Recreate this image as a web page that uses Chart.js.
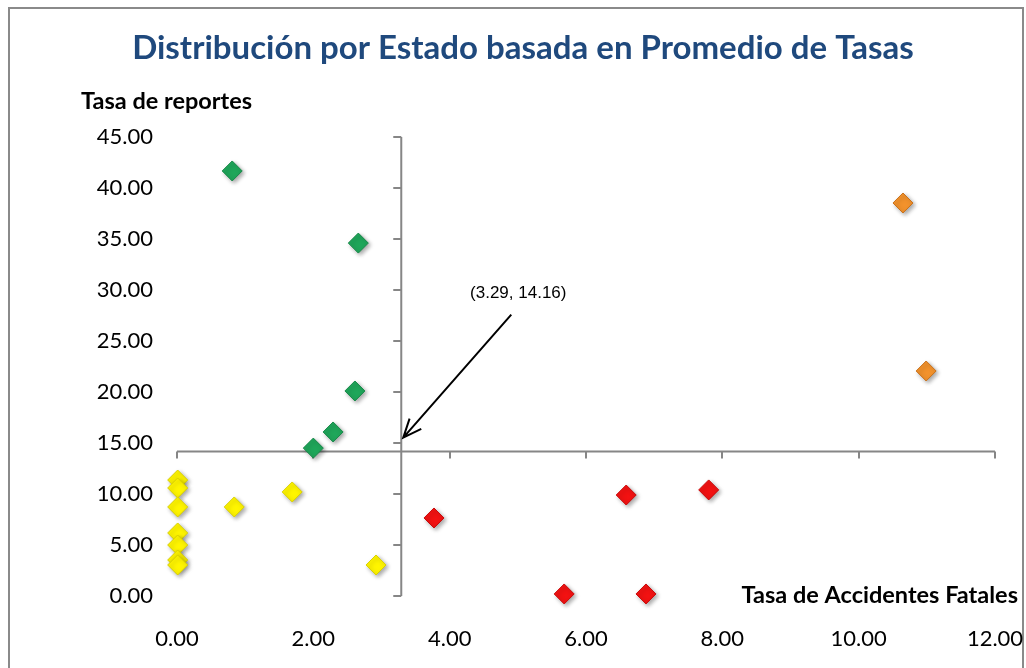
<!DOCTYPE html>
<html>
<head>
<meta charset="utf-8">
<script src="https://cdn.jsdelivr.net/npm/chart.js@4/dist/chart.umd.min.js"></script>
<style>
	body { margin: 0; background: #fff; }
	#frame { position: absolute; left: 8px; top: 7px; width: 1016px; height: 700px; border: 2px solid #8a8a8a; box-sizing: border-box; }
	#chart { position: absolute; left: 0; top: 0; }
</style>
</head>
<body>
<div id="frame"></div>
<canvas id="chart" width="1026" height="668"></canvas>
<script>
	// promedio de tasas (cruce de ejes)
	const meanX = 3.29;
	const meanY = 14.16;

	// Tasa de Accidentes Fatales (x) / Tasa de reportes (y) por estado
	const greenX = [0.81, 2.66, 2.61, 2.29, 2.00];
	const greenY = [41.67, 34.60, 20.10, 16.08, 14.50];

	const yellowX = [0.01, 0.01, 0.01, 0.01, 0.01, 0.01, 0.01, 0.84, 1.69, 2.92];
	const yellowY = [11.37, 10.59, 8.73, 6.18, 5.00, 3.53, 3.04, 8.73, 10.20, 3.04];

	const redX = [3.77, 5.68, 6.59, 6.88, 7.80];
	const redY = [7.65, 0.20, 9.90, 0.20, 10.40];

	const orangeX = [10.65, 10.99];
	const orangeY = [38.53, 22.06];

	const xTicks = [0, 2, 4, 6, 8, 10, 12];
	const yTicks = [0, 5, 10, 15, 20, 25, 30, 35, 40, 45];

	function toPoints(xs, ys) {
		return xs.map((v, i) => ({ x: v, y: ys[i] }));
	}

	function series(label, xs, ys, fill, border) {
		return {
			label: label,
			data: toPoints(xs, ys),
			clip: false,
			pointStyle: 'rectRot',
			pointRadius: 10,
			pointHoverRadius: 10,
			backgroundColor: fill,
			borderColor: border,
			borderWidth: 1
		};
	}

	const FONT = 'Lato, "Open Sans", sans-serif';

	// ejes que se cruzan en el promedio, textos y flecha
	const crossAxes = {
		id: 'crossAxes',
		beforeDatasetsDraw(chart) {
			const ctx = chart.ctx;
			const x = chart.scales.x, y = chart.scales.y;
			const px = x.getPixelForValue(meanX);
			const py = y.getPixelForValue(meanY);
			ctx.save();
			ctx.strokeStyle = '#868686';
			ctx.lineWidth = 2;
			ctx.beginPath();
			ctx.moveTo(px, y.top); ctx.lineTo(px, y.bottom);
			ctx.moveTo(x.left, py); ctx.lineTo(x.right, py);
			yTicks.forEach(function (t) {
				const ty = Math.round(y.getPixelForValue(t));
				ctx.moveTo(px - 8, ty); ctx.lineTo(px, ty);
			});
			xTicks.forEach(function (t) {
				const tx = Math.round(x.getPixelForValue(t));
				ctx.moveTo(tx, py); ctx.lineTo(tx, py + 7);
			});
			ctx.stroke();
			ctx.restore();

			// sombra suave para los marcadores
			ctx.save();
			ctx.shadowColor = 'rgba(0,0,0,0.35)';
			ctx.shadowBlur = 4;
			ctx.shadowOffsetX = 2;
			ctx.shadowOffsetY = 2;
		},
		afterDatasetsDraw(chart) {
			chart.ctx.restore();
		},
		afterDraw(chart) {
			const ctx = chart.ctx;
			const x = chart.scales.x, y = chart.scales.y;
			const px = x.getPixelForValue(meanX);
			const py = y.getPixelForValue(meanY);
			ctx.save();
			ctx.fillStyle = '#000';
			ctx.font = 'bold 23.5px ' + FONT;
			ctx.textBaseline = 'middle';
			ctx.textAlign = 'left';
			ctx.fillText('Tasa de reportes', 81, 101);
			ctx.textAlign = 'right';
			ctx.fillText('Tasa de Accidentes Fatales', 1018, 595);

			// etiqueta del promedio
			ctx.font = '17px Arial, "Liberation Sans", sans-serif';
			ctx.textAlign = 'center';
			ctx.fillText('(' + meanX.toFixed(2) + ', ' + meanY.toFixed(2) + ')', px + 117, py - 158);

			// flecha
			const sx = px + 110, sy = py - 137;
			const tx = px + 2, ty = py - 14;
			const ang = Math.atan2(ty - sy, tx - sx);
			ctx.strokeStyle = '#000';
			ctx.lineWidth = 2;
			ctx.beginPath();
			ctx.moveTo(sx, sy); ctx.lineTo(tx, ty);
			ctx.moveTo(tx - 20 * Math.cos(ang - 0.4), ty - 20 * Math.sin(ang - 0.4));
			ctx.lineTo(tx, ty);
			ctx.lineTo(tx - 20 * Math.cos(ang + 0.4), ty - 20 * Math.sin(ang + 0.4));
			ctx.stroke();
			ctx.restore();
		}
	};

	const config = {
		type: 'scatter',
		data: {
			datasets: [
				series('Verde', greenX, greenY, '#1FA65A', '#178848'),
				series('Amarillo', yellowX, yellowY, '#FFF500', '#D8D000'),
				series('Rojo', redX, redY, '#F21212', '#C80A0A'),
				series('Naranja', orangeX, orangeY, '#F2922C', '#C8701A')
			]
		},
		options: {
			responsive: false,
			animation: false,
			layout: { padding: { left: 51, right: 31, top: 0, bottom: 0 } },
			plugins: {
				legend: { display: false },
				tooltip: { enabled: false },
				title: {
					display: true,
					text: 'Distribución por Estado basada en Promedio de Tasas',
					color: '#1F497D',
					font: { family: FONT, size: 33, weight: 'bold' },
					padding: { top: 29, bottom: 68.4 }
				}
			},
			scales: {
				x: {
					type: 'linear',
					min: 0,
					max: 12,
					grid: { display: false },
					border: { display: false },
					afterFit: function (s) { s.height = 72; s.paddingLeft = 0; s.paddingRight = 0; },
					ticks: {
						stepSize: 2,
						padding: 22,
						color: '#000',
						font: { family: FONT, size: 22 },
						callback: function (v) { return v.toFixed(2); }
					}
				},
				y: {
					type: 'linear',
					min: 0,
					max: 45,
					grid: { display: false },
					border: { display: false },
					afterFit: function (s) { s.width = 126; s.paddingTop = 0; s.paddingBottom = 0; },
					ticks: {
						stepSize: 5,
						padding: 16,
						color: '#000',
						font: { family: FONT, size: 22 },
						callback: function (v) { return v.toFixed(2); }
					}
				}
			}
		},
		plugins: [crossAxes]
	};

	const myChart = new Chart(document.getElementById('chart'), config);
</script>
</body>
</html>
